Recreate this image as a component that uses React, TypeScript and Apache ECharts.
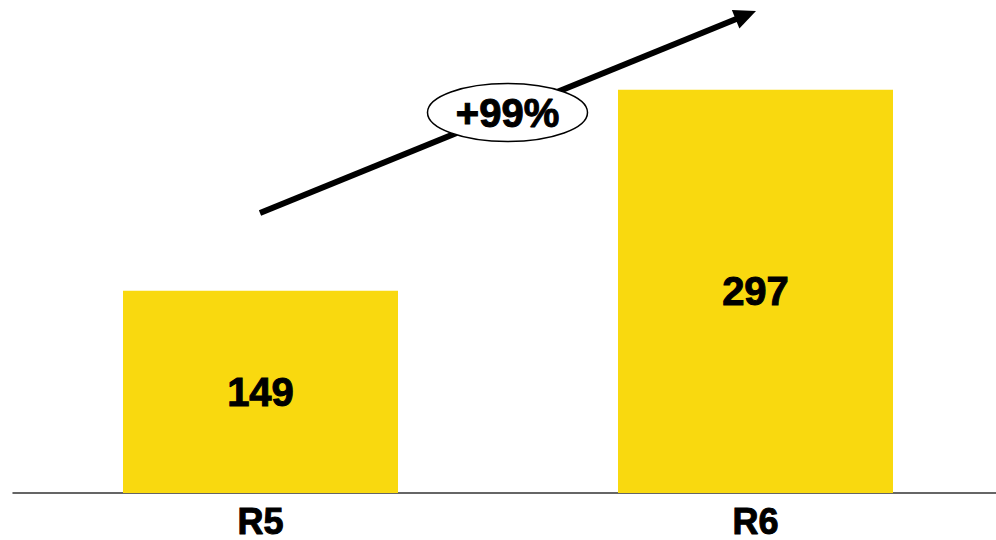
import React, { useEffect, useRef } from "react";
import * as echarts from "echarts";

const categories = ["R5", "R6"];
const values = [149, 297];
const growthLabel = "+99%";

const BAR_COLOR = "#F9D90F";
const FONT = "'Liberation Sans', Arial, sans-serif";

export default function App() {
  const ref = useRef<HTMLDivElement>(null);

  useEffect(() => {
    if (!ref.current) return;
    const chart = echarts.init(ref.current, null, { renderer: "svg" });

    // Growth arrow geometry
    const start = [260, 213];
    const tip = [756, 11];
    const dx = tip[0] - start[0];
    const dy = tip[1] - start[1];
    const len = Math.hypot(dx, dy);
    const ux = dx / len;
    const uy = dy / len;
    const headLen = 22;
    const headHalf = 10;
    const bx = tip[0] - headLen * ux;
    const by = tip[1] - headLen * uy;
    const nx = -uy;
    const ny = ux;

    chart.setOption({
      animation: false,
      grid: { left: 13, right: 7, top: 45, bottom: 47, containLabel: false },
      xAxis: {
        type: "category",
        data: categories,
        axisLine: { lineStyle: { color: "#333333", width: 1.5 } },
        axisTick: { show: false },
        axisLabel: {
          color: "#000",
          fontFamily: FONT,
          fontWeight: "bold",
          fontSize: 36,
          lineHeight: 36,
          textBorderColor: "#000",
          textBorderWidth: 1,
          margin: 10,
        },
      },
      yAxis: {
        type: "value",
        min: 0,
        max: 330,
        show: false,
        splitLine: { show: false },
      },
      series: [
        {
          type: "bar",
          data: values,
          barWidth: 275,
          itemStyle: { color: BAR_COLOR },
          label: {
            show: true,
            position: "inside",
            color: "#000",
            fontFamily: FONT,
            fontWeight: "bold",
            fontSize: 40,
            textBorderColor: "#000",
            textBorderWidth: 1,
          },
        },
      ],
      graphic: [
        {
          type: "line",
          z: 100,
          shape: { x1: start[0], y1: start[1], x2: bx + 2 * ux, y2: by + 2 * uy },
          style: { stroke: "#000", lineWidth: 6 },
        },
        {
          type: "polygon",
          z: 100,
          shape: {
            points: [
              [tip[0], tip[1]],
              [bx + headHalf * nx, by + headHalf * ny],
              [bx - headHalf * nx, by - headHalf * ny],
            ],
          },
          style: { fill: "#000" },
        },
        {
          type: "ellipse",
          z: 101,
          shape: { cx: 507.5, cy: 112.5, rx: 80, ry: 29 },
          style: { fill: "#fff", stroke: "#000", lineWidth: 1.5 },
        },
        {
          type: "text",
          z: 102,
          x: 507.5,
          y: 113,
          style: {
            text: growthLabel,
            fill: "#000",
            font: `bold 40px ${FONT}`,
            stroke: "#000",
            lineWidth: 1,
            align: "center",
            verticalAlign: "middle",
          },
        },
      ],
    });

    return () => chart.dispose();
  }, []);

  // The plot runs slightly past the right edge, so the chart is drawn wider and clipped.
  return (
    <div style={{ width: 996, height: 540, position: "absolute", left: 0, top: 0, overflow: "hidden" }}>
      <div ref={ref} style={{ width: 1010, height: 540 }} />
    </div>
  );
}
